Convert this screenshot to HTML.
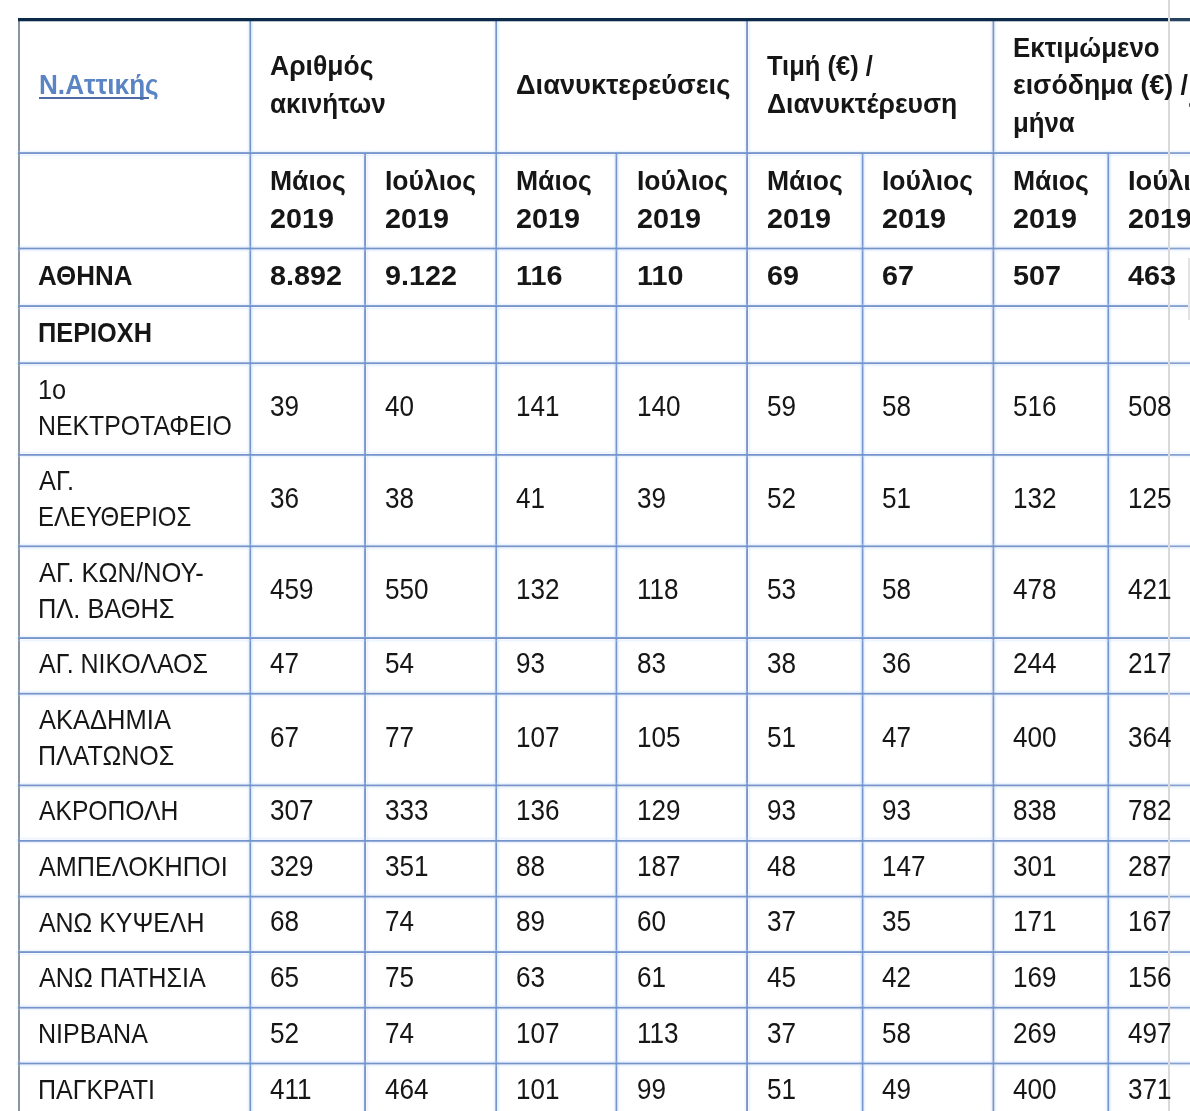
<!DOCTYPE html>
<html lang="el">
<head>
<meta charset="utf-8">
<title>Ν.Αττικής</title>
<style>
html,body{margin:0;padding:0;background:#fff;}
body{width:1190px;height:1111px;overflow:hidden;position:relative;font-family:"Liberation Sans",sans-serif;color:#161616;}
.v,.h,.t,.x{position:absolute;}
.v{top:21px;bottom:0;width:3px;background:linear-gradient(90deg,rgba(118,148,204,0.42) 0 1px,rgb(118,148,204) 1px 2px,rgba(118,148,204,0.42) 2px 3px);box-shadow:0 0 2px 1px rgba(190,222,255,.40);}
.h{left:18px;right:0;height:3px;background:linear-gradient(180deg,rgba(118,148,204,0.42) 0 1px,rgb(118,148,204) 1px 2px,rgba(118,148,204,0.42) 2px 3px);box-shadow:0 0 2px 1px rgba(190,222,255,.40);}
.t{white-space:nowrap;line-height:1;transform-origin:0 0;filter:blur(0.35px);}
.b{font-weight:bold;}
.l{color:#5a84c4;}

</style>
</head>
<body>
<div class="x" style="left:18px;top:18px;bottom:0;width:2px;background:#8794a6"></div>
<div class="v" style="left:249px;background:linear-gradient(90deg,rgba(118,148,204,0.60) 0 1px,rgb(118,148,204) 1px 2px,rgba(118,148,204,0.24) 2px 3px)"></div>
<div class="v" style="left:364px;top:153px;background:linear-gradient(90deg,rgba(118,148,204,0.87) 0 1px,rgb(118,148,204) 1px 2px,rgba(118,148,204,0.05) 2px 3px)"></div>
<div class="v" style="left:495px;background:linear-gradient(90deg,rgba(118,148,204,0.69) 0 1px,rgb(118,148,204) 1px 2px,rgba(118,148,204,0.15) 2px 3px)"></div>
<div class="v" style="left:615px;top:153px;background:linear-gradient(90deg,rgba(118,148,204,0.51) 0 1px,rgb(118,148,204) 1px 2px,rgba(118,148,204,0.33) 2px 3px)"></div>
<div class="v" style="left:746px;background:linear-gradient(90deg,rgba(118,148,204,0.87) 0 1px,rgb(118,148,204) 1px 2px,rgba(118,148,204,0.05) 2px 3px)"></div>
<div class="v" style="left:861px;top:153px;background:linear-gradient(90deg,rgba(118,148,204,0.33) 0 1px,rgb(118,148,204) 1px 2px,rgba(118,148,204,0.51) 2px 3px)"></div>
<div class="v" style="left:992px;background:linear-gradient(90deg,rgba(118,148,204,0.51) 0 1px,rgb(118,148,204) 1px 2px,rgba(118,148,204,0.33) 2px 3px)"></div>
<div class="v" style="left:1107px;top:153px;background:linear-gradient(90deg,rgba(118,148,204,0.60) 0 1px,rgb(118,148,204) 1px 2px,rgba(118,148,204,0.24) 2px 3px)"></div>
<div class="h" style="top:152px;background:linear-gradient(180deg,rgba(118,148,204,0.87) 0 1px,rgb(118,148,204) 1px 2px,rgba(118,148,204,0.05) 2px 3px)"></div>
<div class="h" style="top:247px;background:linear-gradient(180deg,rgba(118,148,204,0.42) 0 1px,rgb(118,148,204) 1px 2px,rgba(118,148,204,0.42) 2px 3px)"></div>
<div class="h" style="top:305px;background:linear-gradient(180deg,rgba(118,148,204,0.87) 0 1px,rgb(118,148,204) 1px 2px,rgba(118,148,204,0.05) 2px 3px)"></div>
<div class="h" style="top:362px;background:linear-gradient(180deg,rgba(118,148,204,0.69) 0 1px,rgb(118,148,204) 1px 2px,rgba(118,148,204,0.15) 2px 3px)"></div>
<div class="h" style="top:453px;background:linear-gradient(180deg,rgba(118,148,204,0.06) 0 1px,rgb(118,148,204) 1px 2px,rgba(118,148,204,0.78) 2px 3px)"></div>
<div class="h" style="top:545px;background:linear-gradient(180deg,rgba(118,148,204,0.60) 0 1px,rgb(118,148,204) 1px 2px,rgba(118,148,204,0.24) 2px 3px)"></div>
<div class="h" style="top:637px;background:linear-gradient(180deg,rgba(118,148,204,0.87) 0 1px,rgb(118,148,204) 1px 2px,rgba(118,148,204,0.05) 2px 3px)"></div>
<div class="h" style="top:692px;background:linear-gradient(180deg,rgba(118,148,204,0.24) 0 1px,rgb(118,148,204) 1px 2px,rgba(118,148,204,0.60) 2px 3px)"></div>
<div class="h" style="top:784px;background:linear-gradient(180deg,rgba(118,148,204,0.51) 0 1px,rgb(118,148,204) 1px 2px,rgba(118,148,204,0.33) 2px 3px)"></div>
<div class="h" style="top:839px;background:linear-gradient(180deg,rgba(118,148,204,0.06) 0 1px,rgb(118,148,204) 1px 2px,rgba(118,148,204,0.78) 2px 3px)"></div>
<div class="h" style="top:895px;background:linear-gradient(180deg,rgba(118,148,204,0.33) 0 1px,rgb(118,148,204) 1px 2px,rgba(118,148,204,0.51) 2px 3px)"></div>
<div class="h" style="top:951px;background:linear-gradient(180deg,rgba(118,148,204,0.87) 0 1px,rgb(118,148,204) 1px 2px,rgba(118,148,204,0.05) 2px 3px)"></div>
<div class="h" style="top:1006px;background:linear-gradient(180deg,rgba(118,148,204,0.24) 0 1px,rgb(118,148,204) 1px 2px,rgba(118,148,204,0.60) 2px 3px)"></div>
<div class="h" style="top:1062px;background:linear-gradient(180deg,rgba(118,148,204,0.42) 0 1px,rgb(118,148,204) 1px 2px,rgba(118,148,204,0.42) 2px 3px)"></div>
<div class="x" style="left:18px;right:0;top:18px;height:4px;background:linear-gradient(180deg,#0b2a4a 0 3px,rgba(11,42,74,.28) 3px 4px)"></div>
<div class="x" style="left:1168px;top:0;width:2px;height:1111px;background:#d9d9d9"></div>
<div class="x" style="left:1170px;top:0;width:20px;height:1111px;background:rgba(255,255,255,.12)"></div>
<div class="x" style="left:1188px;top:258px;width:2px;height:62px;background:#e2e2e2"></div>
<div class="x" style="left:1188.5px;top:103px;width:2px;height:4px;background:#555;border-radius:1px"></div>
<span class="t b l" style="left:39.3px;top:71.1px;font-size:27.5px;transform:scaleX(0.950)">Ν.Αττικής</span>
<div class="x" style="left:38.5px;top:96.8px;width:110.0px;height:2.0px;background:#4d6aa6"></div>
<span class="t b" style="left:270.0px;top:52.5px;font-size:27.0px;transform:scaleX(0.982)">Αριθμός</span>
<span class="t b" style="left:270.0px;top:91.1px;font-size:27.0px;transform:scaleX(0.966)">ακινήτων</span>
<span class="t b" style="left:516.0px;top:72.3px;font-size:27.0px;transform:scaleX(1.010)">Διανυκτερεύσεις</span>
<span class="t b" style="left:767.0px;top:52.5px;font-size:27.0px;transform:scaleX(0.945)">Τιμή (€) /</span>
<span class="t b" style="left:767.0px;top:91.1px;font-size:27.0px;transform:scaleX(0.982)">Διανυκτέρευση</span>
<span class="t b" style="left:1013.0px;top:34.5px;font-size:27.0px;transform:scaleX(0.960)">Εκτιμώμενο</span>
<span class="t b" style="left:1013.0px;top:72.3px;font-size:27.0px;transform:scaleX(0.990)">εισόδημα (€) /</span>
<span class="t b" style="left:1013.0px;top:109.6px;font-size:27.0px;transform:scaleX(0.955)">μήνα</span>
<span class="t b" style="left:270.0px;top:167.6px;font-size:27.0px;transform:scaleX(0.982)">Μάιος</span>
<span class="t b" style="left:270.0px;top:205.5px;font-size:27.0px;transform:scaleX(1.065)">2019</span>
<span class="t b" style="left:385.0px;top:167.6px;font-size:27.0px;transform:scaleX(0.982)">Ιούλιος</span>
<span class="t b" style="left:385.0px;top:205.5px;font-size:27.0px;transform:scaleX(1.065)">2019</span>
<span class="t b" style="left:516.0px;top:167.6px;font-size:27.0px;transform:scaleX(0.982)">Μάιος</span>
<span class="t b" style="left:516.0px;top:205.5px;font-size:27.0px;transform:scaleX(1.065)">2019</span>
<span class="t b" style="left:636.5px;top:167.6px;font-size:27.0px;transform:scaleX(0.982)">Ιούλιος</span>
<span class="t b" style="left:636.5px;top:205.5px;font-size:27.0px;transform:scaleX(1.065)">2019</span>
<span class="t b" style="left:767.0px;top:167.6px;font-size:27.0px;transform:scaleX(0.982)">Μάιος</span>
<span class="t b" style="left:767.0px;top:205.5px;font-size:27.0px;transform:scaleX(1.065)">2019</span>
<span class="t b" style="left:882.0px;top:167.6px;font-size:27.0px;transform:scaleX(0.982)">Ιούλιος</span>
<span class="t b" style="left:882.0px;top:205.5px;font-size:27.0px;transform:scaleX(1.065)">2019</span>
<span class="t b" style="left:1013.0px;top:167.6px;font-size:27.0px;transform:scaleX(0.982)">Μάιος</span>
<span class="t b" style="left:1013.0px;top:205.5px;font-size:27.0px;transform:scaleX(1.065)">2019</span>
<span class="t b" style="left:1128.0px;top:167.6px;font-size:27.0px;transform:scaleX(1.011)">Ιούλιος</span>
<span class="t b" style="left:1128.0px;top:205.5px;font-size:27.0px;transform:scaleX(1.065)">2019</span>
<span class="t b" style="left:38.1px;top:262.9px;font-size:27.0px;transform:scaleX(0.961)">ΑΘΗΝΑ</span>
<span class="t b" style="left:270.0px;top:262.9px;font-size:27.0px;transform:scaleX(1.065)">8.892</span>
<span class="t b" style="left:385.0px;top:262.9px;font-size:27.0px;transform:scaleX(1.065)">9.122</span>
<span class="t b" style="left:516.0px;top:262.9px;font-size:27.0px;transform:scaleX(1.065)">116</span>
<span class="t b" style="left:636.5px;top:262.9px;font-size:27.0px;transform:scaleX(1.065)">110</span>
<span class="t b" style="left:767.0px;top:262.9px;font-size:27.0px;transform:scaleX(1.065)">69</span>
<span class="t b" style="left:882.0px;top:262.9px;font-size:27.0px;transform:scaleX(1.065)">67</span>
<span class="t b" style="left:1013.0px;top:262.9px;font-size:27.0px;transform:scaleX(1.065)">507</span>
<span class="t b" style="left:1128.0px;top:262.9px;font-size:27.0px;transform:scaleX(1.065)">463</span>
<span class="t b" style="left:38.1px;top:320.3px;font-size:27.0px;transform:scaleX(0.938)">ΠΕΡΙΟΧΗ</span>
<span class="t" style="left:38.1px;top:375.6px;font-size:27.5px;transform:scaleX(0.923)">1ο</span>
<span class="t" style="left:38.1px;top:411.6px;font-size:27.5px;transform:scaleX(0.903)">ΝΕΚΤΡΟΤΑΦΕΙΟ</span>
<span class="t" style="left:270.0px;top:392.2px;font-size:28.8px;transform:scaleX(0.906)">39</span>
<span class="t" style="left:385.0px;top:392.2px;font-size:28.8px;transform:scaleX(0.906)">40</span>
<span class="t" style="left:516.0px;top:392.2px;font-size:28.8px;transform:scaleX(0.906)">141</span>
<span class="t" style="left:636.5px;top:392.2px;font-size:28.8px;transform:scaleX(0.906)">140</span>
<span class="t" style="left:767.0px;top:392.2px;font-size:28.8px;transform:scaleX(0.906)">59</span>
<span class="t" style="left:882.0px;top:392.2px;font-size:28.8px;transform:scaleX(0.906)">58</span>
<span class="t" style="left:1013.0px;top:392.2px;font-size:28.8px;transform:scaleX(0.906)">516</span>
<span class="t" style="left:1128.0px;top:392.2px;font-size:28.8px;transform:scaleX(0.906)">508</span>
<span class="t" style="left:39.0px;top:467.1px;font-size:27.5px;transform:scaleX(0.923)">ΑΓ.</span>
<span class="t" style="left:38.1px;top:503.1px;font-size:27.5px;transform:scaleX(0.871)">ΕΛΕΥΘΕΡΙΟΣ</span>
<span class="t" style="left:270.0px;top:483.7px;font-size:28.8px;transform:scaleX(0.906)">36</span>
<span class="t" style="left:385.0px;top:483.7px;font-size:28.8px;transform:scaleX(0.906)">38</span>
<span class="t" style="left:516.0px;top:483.7px;font-size:28.8px;transform:scaleX(0.906)">41</span>
<span class="t" style="left:636.5px;top:483.7px;font-size:28.8px;transform:scaleX(0.906)">39</span>
<span class="t" style="left:767.0px;top:483.7px;font-size:28.8px;transform:scaleX(0.906)">52</span>
<span class="t" style="left:882.0px;top:483.7px;font-size:28.8px;transform:scaleX(0.906)">51</span>
<span class="t" style="left:1013.0px;top:483.7px;font-size:28.8px;transform:scaleX(0.906)">132</span>
<span class="t" style="left:1128.0px;top:483.7px;font-size:28.8px;transform:scaleX(0.906)">125</span>
<span class="t" style="left:39.0px;top:558.7px;font-size:27.5px;transform:scaleX(0.928)">ΑΓ. ΚΩΝ/ΝΟΥ-</span>
<span class="t" style="left:38.1px;top:594.7px;font-size:27.5px;transform:scaleX(0.923)">ΠΛ. ΒΑΘΗΣ</span>
<span class="t" style="left:270.0px;top:575.3px;font-size:28.8px;transform:scaleX(0.906)">459</span>
<span class="t" style="left:385.0px;top:575.3px;font-size:28.8px;transform:scaleX(0.906)">550</span>
<span class="t" style="left:516.0px;top:575.3px;font-size:28.8px;transform:scaleX(0.906)">132</span>
<span class="t" style="left:636.5px;top:575.3px;font-size:28.8px;transform:scaleX(0.906)">118</span>
<span class="t" style="left:767.0px;top:575.3px;font-size:28.8px;transform:scaleX(0.906)">53</span>
<span class="t" style="left:882.0px;top:575.3px;font-size:28.8px;transform:scaleX(0.906)">58</span>
<span class="t" style="left:1013.0px;top:575.3px;font-size:28.8px;transform:scaleX(0.906)">478</span>
<span class="t" style="left:1128.0px;top:575.3px;font-size:28.8px;transform:scaleX(0.906)">421</span>
<span class="t" style="left:39.0px;top:650.1px;font-size:27.5px;transform:scaleX(0.907)">ΑΓ. ΝΙΚΟΛΑΟΣ</span>
<span class="t" style="left:270.0px;top:649.0px;font-size:28.8px;transform:scaleX(0.906)">47</span>
<span class="t" style="left:385.0px;top:649.0px;font-size:28.8px;transform:scaleX(0.906)">54</span>
<span class="t" style="left:516.0px;top:649.0px;font-size:28.8px;transform:scaleX(0.906)">93</span>
<span class="t" style="left:636.5px;top:649.0px;font-size:28.8px;transform:scaleX(0.906)">83</span>
<span class="t" style="left:767.0px;top:649.0px;font-size:28.8px;transform:scaleX(0.906)">38</span>
<span class="t" style="left:882.0px;top:649.0px;font-size:28.8px;transform:scaleX(0.906)">36</span>
<span class="t" style="left:1013.0px;top:649.0px;font-size:28.8px;transform:scaleX(0.906)">244</span>
<span class="t" style="left:1128.0px;top:649.0px;font-size:28.8px;transform:scaleX(0.906)">217</span>
<span class="t" style="left:39.0px;top:706.1px;font-size:27.5px;transform:scaleX(0.928)">ΑΚΑΔΗΜΙΑ</span>
<span class="t" style="left:38.1px;top:742.1px;font-size:27.5px;transform:scaleX(0.910)">ΠΛΑΤΩΝΟΣ</span>
<span class="t" style="left:270.0px;top:722.7px;font-size:28.8px;transform:scaleX(0.906)">67</span>
<span class="t" style="left:385.0px;top:722.7px;font-size:28.8px;transform:scaleX(0.906)">77</span>
<span class="t" style="left:516.0px;top:722.7px;font-size:28.8px;transform:scaleX(0.906)">107</span>
<span class="t" style="left:636.5px;top:722.7px;font-size:28.8px;transform:scaleX(0.906)">105</span>
<span class="t" style="left:767.0px;top:722.7px;font-size:28.8px;transform:scaleX(0.906)">51</span>
<span class="t" style="left:882.0px;top:722.7px;font-size:28.8px;transform:scaleX(0.906)">47</span>
<span class="t" style="left:1013.0px;top:722.7px;font-size:28.8px;transform:scaleX(0.906)">400</span>
<span class="t" style="left:1128.0px;top:722.7px;font-size:28.8px;transform:scaleX(0.906)">364</span>
<span class="t" style="left:39.0px;top:797.4px;font-size:27.5px;transform:scaleX(0.897)">ΑΚΡΟΠΟΛΗ</span>
<span class="t" style="left:270.0px;top:796.3px;font-size:28.8px;transform:scaleX(0.906)">307</span>
<span class="t" style="left:385.0px;top:796.3px;font-size:28.8px;transform:scaleX(0.906)">333</span>
<span class="t" style="left:516.0px;top:796.3px;font-size:28.8px;transform:scaleX(0.906)">136</span>
<span class="t" style="left:636.5px;top:796.3px;font-size:28.8px;transform:scaleX(0.906)">129</span>
<span class="t" style="left:767.0px;top:796.3px;font-size:28.8px;transform:scaleX(0.906)">93</span>
<span class="t" style="left:882.0px;top:796.3px;font-size:28.8px;transform:scaleX(0.906)">93</span>
<span class="t" style="left:1013.0px;top:796.3px;font-size:28.8px;transform:scaleX(0.906)">838</span>
<span class="t" style="left:1128.0px;top:796.3px;font-size:28.8px;transform:scaleX(0.906)">782</span>
<span class="t" style="left:39.0px;top:853.0px;font-size:27.5px;transform:scaleX(0.917)">ΑΜΠΕΛΟΚΗΠΟΙ</span>
<span class="t" style="left:270.0px;top:851.9px;font-size:28.8px;transform:scaleX(0.906)">329</span>
<span class="t" style="left:385.0px;top:851.9px;font-size:28.8px;transform:scaleX(0.906)">351</span>
<span class="t" style="left:516.0px;top:851.9px;font-size:28.8px;transform:scaleX(0.906)">88</span>
<span class="t" style="left:636.5px;top:851.9px;font-size:28.8px;transform:scaleX(0.906)">187</span>
<span class="t" style="left:767.0px;top:851.9px;font-size:28.8px;transform:scaleX(0.906)">48</span>
<span class="t" style="left:882.0px;top:851.9px;font-size:28.8px;transform:scaleX(0.906)">147</span>
<span class="t" style="left:1013.0px;top:851.9px;font-size:28.8px;transform:scaleX(0.906)">301</span>
<span class="t" style="left:1128.0px;top:851.9px;font-size:28.8px;transform:scaleX(0.906)">287</span>
<span class="t" style="left:39.0px;top:908.5px;font-size:27.5px;transform:scaleX(0.906)">ΑΝΩ ΚΥΨΕΛΗ</span>
<span class="t" style="left:270.0px;top:907.4px;font-size:28.8px;transform:scaleX(0.906)">68</span>
<span class="t" style="left:385.0px;top:907.4px;font-size:28.8px;transform:scaleX(0.906)">74</span>
<span class="t" style="left:516.0px;top:907.4px;font-size:28.8px;transform:scaleX(0.906)">89</span>
<span class="t" style="left:636.5px;top:907.4px;font-size:28.8px;transform:scaleX(0.906)">60</span>
<span class="t" style="left:767.0px;top:907.4px;font-size:28.8px;transform:scaleX(0.906)">37</span>
<span class="t" style="left:882.0px;top:907.4px;font-size:28.8px;transform:scaleX(0.906)">35</span>
<span class="t" style="left:1013.0px;top:907.4px;font-size:28.8px;transform:scaleX(0.906)">171</span>
<span class="t" style="left:1128.0px;top:907.4px;font-size:28.8px;transform:scaleX(0.906)">167</span>
<span class="t" style="left:39.0px;top:964.1px;font-size:27.5px;transform:scaleX(0.916)">ΑΝΩ ΠΑΤΗΣΙΑ</span>
<span class="t" style="left:270.0px;top:963.0px;font-size:28.8px;transform:scaleX(0.906)">65</span>
<span class="t" style="left:385.0px;top:963.0px;font-size:28.8px;transform:scaleX(0.906)">75</span>
<span class="t" style="left:516.0px;top:963.0px;font-size:28.8px;transform:scaleX(0.906)">63</span>
<span class="t" style="left:636.5px;top:963.0px;font-size:28.8px;transform:scaleX(0.906)">61</span>
<span class="t" style="left:767.0px;top:963.0px;font-size:28.8px;transform:scaleX(0.906)">45</span>
<span class="t" style="left:882.0px;top:963.0px;font-size:28.8px;transform:scaleX(0.906)">42</span>
<span class="t" style="left:1013.0px;top:963.0px;font-size:28.8px;transform:scaleX(0.906)">169</span>
<span class="t" style="left:1128.0px;top:963.0px;font-size:28.8px;transform:scaleX(0.906)">156</span>
<span class="t" style="left:38.1px;top:1019.8px;font-size:27.5px;transform:scaleX(0.910)">ΝΙΡΒΑΝΑ</span>
<span class="t" style="left:270.0px;top:1018.7px;font-size:28.8px;transform:scaleX(0.906)">52</span>
<span class="t" style="left:385.0px;top:1018.7px;font-size:28.8px;transform:scaleX(0.906)">74</span>
<span class="t" style="left:516.0px;top:1018.7px;font-size:28.8px;transform:scaleX(0.906)">107</span>
<span class="t" style="left:636.5px;top:1018.7px;font-size:28.8px;transform:scaleX(0.906)">113</span>
<span class="t" style="left:767.0px;top:1018.7px;font-size:28.8px;transform:scaleX(0.906)">37</span>
<span class="t" style="left:882.0px;top:1018.7px;font-size:28.8px;transform:scaleX(0.906)">58</span>
<span class="t" style="left:1013.0px;top:1018.7px;font-size:28.8px;transform:scaleX(0.906)">269</span>
<span class="t" style="left:1128.0px;top:1018.7px;font-size:28.8px;transform:scaleX(0.906)">497</span>
<span class="t" style="left:38.1px;top:1075.6px;font-size:27.5px;transform:scaleX(0.908)">ΠΑΓΚΡΑΤΙ</span>
<span class="t" style="left:270.0px;top:1074.5px;font-size:28.8px;transform:scaleX(0.906)">411</span>
<span class="t" style="left:385.0px;top:1074.5px;font-size:28.8px;transform:scaleX(0.906)">464</span>
<span class="t" style="left:516.0px;top:1074.5px;font-size:28.8px;transform:scaleX(0.906)">101</span>
<span class="t" style="left:636.5px;top:1074.5px;font-size:28.8px;transform:scaleX(0.906)">99</span>
<span class="t" style="left:767.0px;top:1074.5px;font-size:28.8px;transform:scaleX(0.906)">51</span>
<span class="t" style="left:882.0px;top:1074.5px;font-size:28.8px;transform:scaleX(0.906)">49</span>
<span class="t" style="left:1013.0px;top:1074.5px;font-size:28.8px;transform:scaleX(0.906)">400</span>
<span class="t" style="left:1128.0px;top:1074.5px;font-size:28.8px;transform:scaleX(0.906)">371</span>
</body>
</html>
